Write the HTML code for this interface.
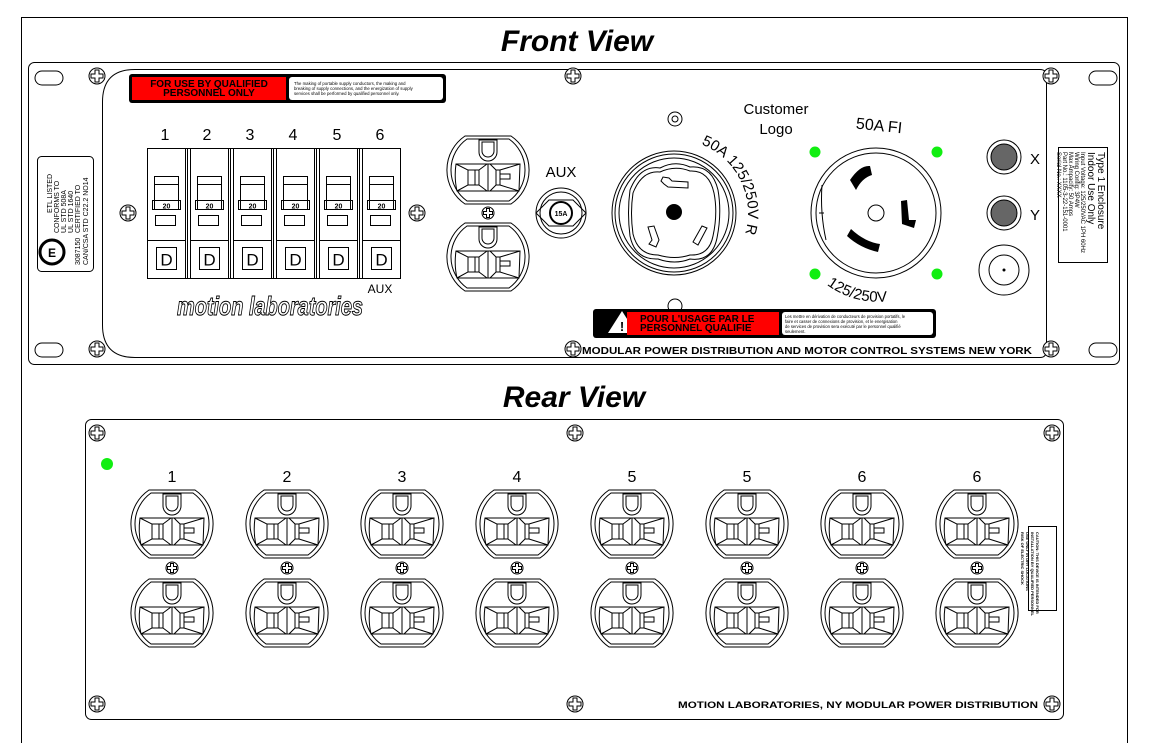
<!DOCTYPE html>
<html><head><meta charset="utf-8"><style>
html,body{margin:0;padding:0;background:#fff;}
svg{display:block;font-family:"Liberation Sans",sans-serif;}
</style></head><body>
<svg width="1149" height="743" viewBox="0 0 1149 743" xmlns="http://www.w3.org/2000/svg">
<defs>
<g id="outlet" fill="none" stroke="#000" stroke-width="1">
  <path d="M-23,-34 L23,-34 A41,41 0 0 1 23,34 L-23,34 A41,41 0 0 1 -23,-34 Z" fill="#fff"/>
  <path d="M-21,-31 L21,-31 A38,38 0 0 1 21,31 L-21,31 A38,38 0 0 1 -21,-31 Z"/>
  <path d="M-9,-30 L9,-30 L9,-18 A9,9 0 0 1 -9,-18 Z"/>
  <path d="M-6,-28 L6,-28 L6,-19 A6,6 0 0 1 -6,-19 Z"/>
  <path d="M-32,-6 L32,-6 L31,21 L-31,21 Q-34,8 -32,-6 Z"/>
  <path d="M-32,-6 L-20,0 L-20,15 L-31,21 M-20,0 L-13,0 L-13,15 L-20,15 M-9,0 L-9,15 M-13,0 L-9,0 M-13,15 L-9,15 M-9,0 L-1,-6 M-9,15 L-1,21"/>
  <path d="M0,-6 L0,21 M2,-6 L8,0 L8,15 L2,21 M8,0 L12,0 L12,15 L8,15 M12,0 L32,-6 M12,15 L31,21 M12,4 L22,4 L22,9 L12,9 M22,4 L22,9"/>
</g>
<g id="screw" fill="none" stroke="#000" stroke-width="1">
  <circle r="8" fill="#fff"/>
  <path d="M-2,-6 L2,-6 L2,-2 L6,-2 L6,2 L2,2 L2,6 L-2,6 L-2,2 L-6,2 L-6,-2 L-2,-2 Z"/>
</g>
<g id="screws" fill="none" stroke="#000" stroke-width="1">
  <circle r="6" fill="#fff"/>
  <path d="M-1.5,-4.5 L1.5,-4.5 L1.5,-1.5 L4.5,-1.5 L4.5,1.5 L1.5,1.5 L1.5,4.5 L-1.5,4.5 L-1.5,1.5 L-4.5,1.5 L-4.5,-1.5 L-1.5,-1.5 Z"/>
</g>
<g id="slot"><rect x="-14" y="-7" width="28" height="14" rx="7" fill="#fff" stroke="#000"/></g>
<g id="breaker" fill="none" stroke="#000" stroke-width="1">
  <rect x="0" y="0" width="38" height="130" fill="#fff"/>
  <line x1="0" y1="92" x2="38" y2="92"/>
  <rect x="7" y="28" width="24" height="33"/>
  <line x1="7" y1="36" x2="31" y2="36"/>
  <path d="M5,52 L33,52 L33,61 L5,61 Z"/>
  <text x="19" y="60" font-size="7" font-weight="bold" text-anchor="middle" fill="#000" stroke="none">20</text>
  <rect x="8" y="67" width="20" height="10"/>
  <rect x="9" y="99" width="20" height="22"/>
  <text x="19" y="117" font-size="17" text-anchor="middle" fill="#000" stroke="none">D</text>
</g>
</defs>

<rect x="21.5" y="17.5" width="1106" height="740" fill="none" stroke="#000"/>

<text x="577" y="51" font-size="30" font-style="italic" font-weight="bold" text-anchor="middle">Front View</text>
<text x="574" y="407" font-size="30" font-style="italic" font-weight="bold" text-anchor="middle">Rear View</text>

<!-- Front panel -->
<rect x="28.5" y="62.5" width="1091" height="302" rx="6" fill="none" stroke="#000"/>
<path d="M135,69.5 L1040,69.5 Q1046.5,69.5 1046.5,76 L1046.5,350 Q1046.5,357.5 1040,357.5 L135,357.5 Q102.5,357.5 102.5,325 L102.5,102 Q102.5,69.5 135,69.5 Z" fill="none" stroke="#000"/>
<use href="#slot" x="49" y="78"/><use href="#slot" x="49" y="350"/>
<use href="#slot" x="1103" y="78"/><use href="#slot" x="1103" y="350"/>
<use href="#screw" x="97" y="76"/><use href="#screw" x="97" y="349"/>
<use href="#screw" x="1051" y="76"/><use href="#screw" x="1051" y="349"/>
<use href="#screw" x="573" y="76"/><use href="#screw" x="573" y="349"/>
<use href="#screw" x="128" y="213"/><use href="#screw" x="417" y="213"/>

<!-- left ETL label -->
<rect x="37.5" y="156.5" width="56" height="115" rx="4" fill="none" stroke="#000"/>
<g transform="translate(88,265) rotate(-90)" font-size="7" fill="#000">
  <text x="0" y="0">CAN/CSA  STD  C22.2  NO14</text>
  <text x="32" y="-8">CERTIFIED  TO</text>
  <text x="32" y="-15">UL  STD  1640</text>
  <text x="32" y="-22">UL  STD  508A</text>
  <text x="32" y="-29">CONFORMS  TO</text>
  <text x="52" y="-36">ETL  LISTED</text>
  <text x="0" y="-8">3087150</text>
</g>
<circle cx="52" cy="252" r="12" fill="none" stroke="#000" stroke-width="3"/>
<text x="52" y="257" font-size="12" font-weight="bold" text-anchor="middle">E</text>

<!-- top warning label -->
<rect x="129" y="74" width="317" height="29" rx="3" fill="#000"/>
<rect x="132" y="77" width="154" height="23" fill="#f00"/>
<rect x="289" y="77" width="154" height="23" rx="3" fill="#fff"/>
<text x="209" y="87" font-size="10" font-weight="bold" text-anchor="middle">FOR USE BY QUALIFIED</text>
<text x="209" y="96" font-size="10" font-weight="bold" text-anchor="middle">PERSONNEL ONLY</text>
<text x="294" y="85" font-size="4.3">The making of portable supply conductors, the making and</text>
<text x="294" y="90" font-size="4.3">breaking of supply connections, and the energization of supply</text>
<text x="294" y="95" font-size="4.3">services shall be performed by qualified personnel only.</text>

<!-- breakers -->
<g font-size="16" text-anchor="middle">
<text x="165" y="140">1</text><text x="207" y="140">2</text><text x="250" y="140">3</text><text x="293" y="140">4</text><text x="337" y="140">5</text><text x="380" y="140">6</text>
</g>
<rect x="147.5" y="148.5" width="250" height="130" fill="none" stroke="#000"/>
<use href="#breaker" x="147.5" y="148.5"/>
<use href="#breaker" x="190.5" y="148.5"/>
<use href="#breaker" x="233.5" y="148.5"/>
<use href="#breaker" x="276.5" y="148.5"/>
<use href="#breaker" x="319.5" y="148.5"/>
<use href="#breaker" x="362.5" y="148.5"/>
<g stroke="#000"><line x1="187.5" y1="148" x2="187.5" y2="278"/><line x1="230.5" y1="148" x2="230.5" y2="278"/><line x1="273.5" y1="148" x2="273.5" y2="278"/><line x1="316.5" y1="148" x2="316.5" y2="278"/><line x1="359.5" y1="148" x2="359.5" y2="278"/></g>
<text x="380" y="293" font-size="12" text-anchor="middle">AUX</text>
<text x="270" y="315" font-size="26" font-style="italic" font-weight="bold" text-anchor="middle" fill="#fff" stroke="#000" stroke-width="1" textLength="186" lengthAdjust="spacingAndGlyphs">motion laboratories</text>

<!-- front duplex -->
<use href="#outlet" x="488" y="170"/>
<use href="#outlet" x="488" y="257"/>
<use href="#screws" x="488" y="213"/>
<text x="561" y="177" font-size="15" text-anchor="middle">AUX</text>
<circle cx="561" cy="213" r="25" fill="none" stroke="#000"/>
<circle cx="561" cy="213" r="21" fill="none" stroke="#000"/>
<polygon points="549,200 573,200 586,213 573,226 549,226 536,213" fill="none" stroke="#000"/>
<circle cx="561" cy="213" r="11" fill="none" stroke="#000" stroke-width="2"/>
<text x="561" y="216" font-size="7" font-weight="bold" text-anchor="middle">15A</text>

<!-- left twist lock -->
<circle cx="675" cy="119" r="7" fill="none" stroke="#000"/><circle cx="675" cy="119" r="3" fill="none" stroke="#000"/>
<circle cx="675" cy="306" r="7" fill="none" stroke="#000"/>
<g fill="none" stroke="#000">
<circle cx="674" cy="213" r="62"/><circle cx="674" cy="213" r="59"/><circle cx="674" cy="213" r="55"/>
<path d="M630,190 Q640,165 660,168 Q675,160 690,167 Q712,165 718,190 Q722,213 717,238 Q712,262 690,259 Q675,265 658,259 Q635,260 630,236 Q627,213 630,190 Z"/>
<path d="M633,193 Q642,170 660,172 Q675,165 690,171 Q709,170 714,193 Q718,213 713,236 Q709,256 690,255 Q675,260 658,255 Q638,255 633,234 Q630,213 633,193 Z"/>
<path d="M661,181 L663,177 L669,178 L672,181 L688,182 L688,188 L668,187 L664,184 Z"/>
<path d="M648,227 L654,226 L659,240 L656,247 L649,244 L652,240 Z"/>
<path d="M702,226 L707,228 L698,245 L693,242 Z"/>
</g>
<circle cx="674" cy="212" r="8" fill="#000"/>
<path id="arcL" d="M674,139 A74,74 0 0 1 674,287" fill="none"/>
<text font-size="15"><textPath href="#arcL" startOffset="12%">50A 125/250V R</textPath></text>
<text x="776" y="114" font-size="15" text-anchor="middle">Customer</text>
<text x="776" y="134" font-size="15" text-anchor="middle">Logo</text>

<!-- right twist lock -->
<g fill="none" stroke="#000">
<circle cx="876" cy="213" r="65"/><circle cx="876" cy="213" r="60"/>
<path d="M822,185 Q820,213 826,240 M819,213 L824,213"/>
<circle cx="876" cy="213" r="8"/>
</g>
<path d="M850,180 Q860,165 870,166 L872,175 Q862,178 856,190 Z" fill="#000"/>
<path d="M901,201 L907,200 L909,220 L916,220 L914,228 L902,224 Z" fill="#000"/>
<path d="M851,229 Q865,242 880,244 L878,252 Q860,248 847,236 Z" fill="#000"/>
<g fill="#1e1"><circle cx="815" cy="152" r="5.5"/><circle cx="937" cy="152" r="5.5"/><circle cx="815" cy="274" r="5.5"/><circle cx="937" cy="274" r="5.5"/></g>
<text x="856" y="131" font-size="16" transform="rotate(6 880 125)">50A FI</text>
<path id="arcR" d="M806,262 A85,85 0 0 0 950,262" fill="none"/>
<text font-size="15"><textPath href="#arcR" startOffset="18%">125/250V</textPath></text>

<!-- X Y connectors -->
<g fill="none" stroke="#000">
<circle cx="1004" cy="157" r="17"/><circle cx="1004" cy="157" r="13" fill="#666"/>
<circle cx="1004" cy="213" r="17"/><circle cx="1004" cy="213" r="13" fill="#666"/>
<circle cx="1004" cy="270" r="25"/><circle cx="1004" cy="270" r="15"/>
</g>
<circle cx="1004" cy="270" r="1.5" fill="#000"/>
<text x="1030" y="164" font-size="15">X</text>
<text x="1030" y="220" font-size="15">Y</text>
<rect x="1058.5" y="147.5" width="49" height="115" fill="none" stroke="#000"/>
<g transform="translate(1098,152) rotate(90)" fill="#000">
  <text x="0" y="0" font-size="10">Type 1 Enclosure</text>
  <text x="0" y="10" font-size="10">Indoor Use Only</text>
  <text x="0" y="17" font-size="6">Input Voltage: 125/250VAC 1PH 60Hz</text>
  <text x="0" y="23" font-size="6">Wiring Config: 3P4W</text>
  <text x="0" y="29" font-size="6">Max Ampacity: 50 Amps</text>
  <text x="0" y="35" font-size="6">Part No.:      1105-3-22-151-0001</text>
  <text x="0" y="41" font-size="6">Serial No.:    XXXX</text>
</g>

<!-- bottom warning label -->
<rect x="593" y="309" width="343" height="29" rx="3" fill="#000"/>
<polygon points="608,333 622,311 636,333" fill="#fff"/>
<text x="622" y="331" font-size="13" font-weight="bold" text-anchor="middle">!</text>
<rect x="627" y="312" width="152" height="23" fill="#f00"/>
<rect x="782" y="312" width="151" height="23" rx="3" fill="#fff"/>
<text x="640" y="322" font-size="10" font-weight="bold">POUR L'USAGE PAR LE</text>
<text x="640" y="331" font-size="10" font-weight="bold">PERSONNEL QUALIFIE</text>
<text x="785" y="318" font-size="4.2">Les mettre en dérivation de conducteurs de provision portatifs, le</text>
<text x="785" y="323" font-size="4.2">faire et casser de connexions de provision, et le energisation</text>
<text x="785" y="328" font-size="4.2">de services de provision sera exécuté par le personnel qualifié</text>
<text x="785" y="333" font-size="4.2">seulement.</text>
<text x="582" y="354" font-size="10" font-weight="bold" textLength="450" lengthAdjust="spacingAndGlyphs">MODULAR POWER DISTRIBUTION AND MOTOR CONTROL SYSTEMS   NEW YORK</text>

<!-- Rear panel -->
<rect x="85.5" y="419.5" width="978" height="300" rx="6" fill="none" stroke="#000"/>
<use href="#screw" x="97" y="433"/><use href="#screw" x="575" y="433"/><use href="#screw" x="1052" y="433"/>
<use href="#screw" x="97" y="704"/><use href="#screw" x="575" y="704"/><use href="#screw" x="1052" y="704"/>
<circle cx="107" cy="464" r="6" fill="#1e1"/>
<g font-size="16" text-anchor="middle">
<text x="172" y="482">1</text><text x="287" y="482">2</text><text x="402" y="482">3</text><text x="517" y="482">4</text>
<text x="632" y="482">5</text><text x="747" y="482">5</text><text x="862" y="482">6</text><text x="977" y="482">6</text>
</g>
<g>
<use href="#outlet" x="172" y="524"/><use href="#outlet" x="172" y="613"/><use href="#screws" x="172" y="568"/>
<use href="#outlet" x="287" y="524"/><use href="#outlet" x="287" y="613"/><use href="#screws" x="287" y="568"/>
<use href="#outlet" x="402" y="524"/><use href="#outlet" x="402" y="613"/><use href="#screws" x="402" y="568"/>
<use href="#outlet" x="517" y="524"/><use href="#outlet" x="517" y="613"/><use href="#screws" x="517" y="568"/>
<use href="#outlet" x="632" y="524"/><use href="#outlet" x="632" y="613"/><use href="#screws" x="632" y="568"/>
<use href="#outlet" x="747" y="524"/><use href="#outlet" x="747" y="613"/><use href="#screws" x="747" y="568"/>
<use href="#outlet" x="862" y="524"/><use href="#outlet" x="862" y="613"/><use href="#screws" x="862" y="568"/>
<use href="#outlet" x="977" y="524"/><use href="#outlet" x="977" y="613"/><use href="#screws" x="977" y="568"/>
</g>
<rect x="1028.5" y="526.5" width="28" height="84" fill="none" stroke="#000"/>
<g transform="translate(1036,532) rotate(90)" font-size="4" font-weight="bold" fill="#000">
  <text x="0" y="0">CAUTION: THIS DEVICE IS INTENDED FOR</text>
  <text x="0" y="5">INSTALLATION BY QUALIFIED PERSONNEL</text>
  <text x="0" y="10">USE ONLY IN DRY LOCATIONS</text>
  <text x="0" y="15">RISK OF ELECTRIC SHOCK</text>
</g>
<text x="678" y="708" font-size="9" font-weight="bold" textLength="360" lengthAdjust="spacingAndGlyphs">MOTION LABORATORIES, NY   MODULAR POWER DISTRIBUTION</text>
</svg>
</body></html>
